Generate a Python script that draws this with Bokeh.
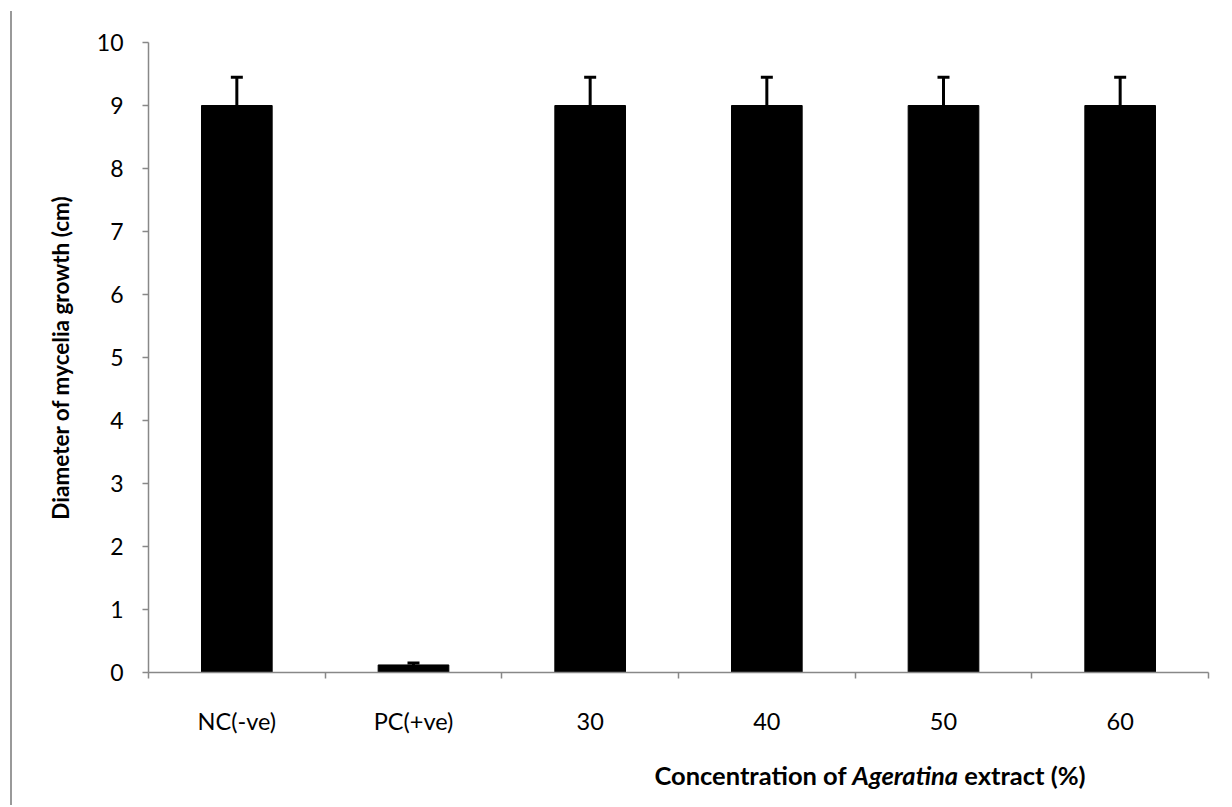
from bokeh.plotting import figure
from bokeh.models import FixedTicker, Whisker, TeeHead, ColumnDataSource, Column, Div
from bokeh.embed import file_html
from bokeh.resources import INLINE

categories = ["NC(-ve)", "PC(+ve)", "30", "40", "50", "60"]
diameter = [9.0, 0.12, 9.0, 9.0, 9.0, 9.0]
error = [0.45, 0.03, 0.45, 0.45, 0.45, 0.45]
y_ticks = list(range(0, 11))

xs = [i + 0.5 for i in range(len(categories))]
src = ColumnDataSource(dict(x=xs, top=diameter,
                            upper=[d + e for d, e in zip(diameter, error)]))

FONT = "Lato"

# thin strip drawn on its own canvas: the outer frame's top edge
top_strip = figure(width=1220, height=2, output_backend="svg", toolbar_location=None,
                   min_border=0, x_axis_type=None, y_axis_type=None,
                   x_range=(0, 1), y_range=(0, 1))
top_strip.outline_line_color = None
top_strip.grid.visible = False
top_strip.background_fill_color = "#999999"
top_strip.border_fill_color = "#999999"

p = figure(width=1220, height=739, x_range=(0, len(categories)), y_range=(0, 10),
           output_backend="svg", toolbar_location=None,
           min_border_left=136, min_border_right=24, min_border_top=29, min_border_bottom=80)
p.outline_line_color = None
p.xgrid.grid_line_color = None
p.ygrid.grid_line_color = None
p.background_fill_color = "white"
p.border_fill_color = "white"

p.vbar(x="x", top="top", width=0.4, bottom=0, source=src,
       fill_color="black", line_color="black")
w = Whisker(source=src, base="x", lower="top", upper="upper",
            upper_head=TeeHead(size=12, line_width=3, line_color="black"),
            lower_head=None, line_width=3, line_color="black")
p.add_layout(w)

ax = p.xaxis[0]
ax.ticker = FixedTicker(ticks=xs, minor_ticks=list(range(len(categories) + 1)))
ax.major_label_overrides = {x: c for x, c in zip(xs, categories)}
ax.major_tick_line_color = None
ax.minor_tick_line_color = "#888888"
ax.minor_tick_out = 6
ax.minor_tick_in = 0
ax.minor_tick_line_width = 1.5
ax.axis_line_color = "#888888"
ax.axis_line_width = 1.5
ax.major_label_standoff = 28
ax.major_label_text_font = FONT
ax.major_label_text_font_size = "23.5px"
ax.major_label_text_color = "black"

ay = p.yaxis[0]
ay.ticker = FixedTicker(ticks=y_ticks)
ay.minor_tick_line_color = None
ay.major_tick_line_color = "#888888"
ay.major_tick_out = 6
ay.major_tick_in = 0
ay.major_tick_line_width = 1.5
ay.axis_line_color = "#888888"
ay.axis_line_width = 1.5
ay.major_label_standoff = 19
ay.major_label_text_font = FONT
ay.major_label_text_font_size = "23px"
ay.major_label_text_color = "black"
ay.axis_label = "Diameter of mycelia growth (cm)"
ay.axis_label_text_font = FONT
ay.axis_label_text_font_style = "bold"
ay.axis_label_text_font_size = "22.5px"
ay.axis_label_standoff = 20
ay.axis_label_text_color = "black"

xlabel = Div(text="<b>Concentration of <i>Ageratina</i> extract (%)</b>",
             width=600, height=50, margin=(3, 0, 0, 558),
             styles={"font-family": "Lato", "font-size": "25.5px", "line-height": "40px",
                     "text-align": "center", "color": "black"})

layout = Column(top_strip, p, xlabel, spacing=0,
                styles={"border-left": "2px solid #999999",
                        "margin-left": "10px", "margin-top": "11px"})

open("out.html", "w").write(file_html(layout, INLINE))
